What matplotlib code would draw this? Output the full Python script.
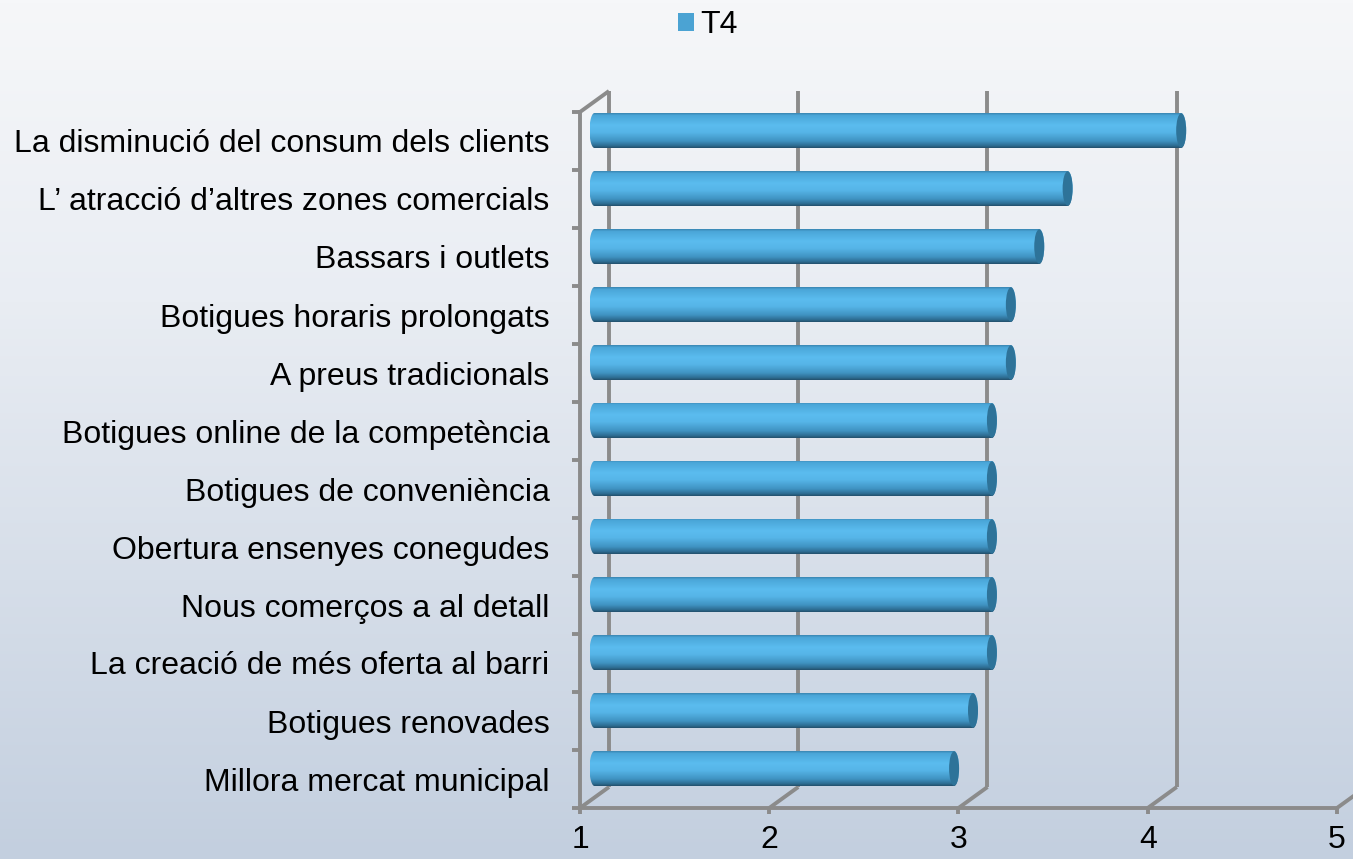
import numpy as np
import matplotlib
matplotlib.use("Agg")
import matplotlib.pyplot as plt
from matplotlib.colors import LinearSegmentedColormap
from matplotlib.patches import PathPatch, Ellipse, Patch
from matplotlib.path import Path

plt.rcParams['font.family'] = ['Liberation Sans', 'DejaVu Sans']

# factors, listed bottom to top
categories = [
    'Millora mercat municipal',
    'Botigues renovades',
    'La creació de més oferta al barri',
    'Nous comerços a al detall',
    'Obertura ensenyes conegudes',
    'Botigues de conveniència',
    'Botigues online de la competència',
    'A preus tradicionals',
    'Botigues horaris prolongats',
    'Bassars i outlets',
    'L\u2019 atracció d\u2019altres zones comercials',
    'La disminució del consum dels clients',
]
t4 = [2.9, 3.0, 3.1, 3.1, 3.1, 3.1, 3.1, 3.2, 3.2, 3.35, 3.5, 4.1]
xticks = [1, 2, 3, 4, 5]

W, H = 1353, 859
FS = 23
fig = plt.figure(figsize=(W / 100, H / 100), dpi=100)

# background gradient
bg = fig.add_axes([0, 0, 1, 1], zorder=0)
bg_cmap = LinearSegmentedColormap.from_list(
    'bg', [(0, '#f6f7f9'), (0.35, '#e9edf3'), (1, '#c3cfdf')])
bg.imshow(np.linspace(0, 1, 256).reshape(-1, 1), cmap=bg_cmap,
          aspect='auto', extent=[0, 1, 0, 1], origin='upper')
bg.axis('off')

ax = fig.add_axes([580 / W, 51 / H, 757 / W, 696 / H], zorder=1)
ax.patch.set_alpha(0)
ax.set_xlim(1, 5)
ax.set_ylim(0, len(categories))

px_x = 757 / 4.0      # pixels per value unit
px_y = 696 / 12.0     # pixels per category
DX = 29 / px_x        # depth offset of the back wall
DY = 21 / px_y
grid_c = '#8b8b8b'
lw = 2.8

n = len(categories)
# back wall verticals and floor diagonals
for v in xticks:
    ax.plot([v + DX, v + DX], [DY, n + DY], color=grid_c, lw=lw,
            clip_on=False, solid_capstyle='butt', zorder=2)
    ax.plot([v, v + DX], [0, DY], color=grid_c, lw=lw, clip_on=False,
            solid_capstyle='butt', zorder=2)
# left wall top edge
ax.plot([1, 1 + DX], [n, n + DY], color=grid_c, lw=lw, clip_on=False,
        solid_capstyle='butt', zorder=2)

for s in ['top', 'right']:
    ax.spines[s].set_visible(False)
for s in ['left', 'bottom']:
    ax.spines[s].set_color(grid_c)
    ax.spines[s].set_linewidth(lw)
    ax.spines[s].set_zorder(2)

ax.set_xticks(xticks)
ax.set_xticklabels([str(v) for v in xticks])
ax.set_yticks(np.arange(n + 1))
ax.set_yticklabels([])
ax.set_yticks(np.arange(n) + 0.5, minor=True)
ax.set_yticklabels(categories, minor=True)
ax.tick_params(axis='x', which='major', direction='out', length=4.5,
               width=lw, color=grid_c, pad=8, labelsize=FS)
ax.tick_params(axis='y', which='major', direction='out', length=6,
               width=lw, color=grid_c)
ax.tick_params(axis='y', which='minor', length=0, pad=22, labelsize=FS)

# cylinder bars at mid depth
bar_cmap = LinearSegmentedColormap.from_list('bar', [
    (0.0, '#3a86b2'), (0.06, '#4aa6d8'), (0.35, '#5bbcef'),
    (0.55, '#56b5e8'), (0.8, '#4093c2'), (0.94, '#2d6c91'),
    (1.0, '#23506c')])
grad = np.linspace(0, 1, 120).reshape(-1, 1)
ry = 17.5 / px_y
rx = 5.0 / px_x
dx, dy = DX / 2, DY / 2
for i, v in enumerate(t4):
    yc = i + 0.5 + dy
    x0, x1 = 1 + dx, v + dx
    th_l = np.linspace(np.pi / 2, 3 * np.pi / 2, 40)
    th_r = np.linspace(-np.pi / 2, np.pi / 2, 40)
    pts = np.concatenate([
        np.column_stack([x0 + rx * np.cos(th_l), yc + ry * np.sin(th_l)]),
        np.column_stack([x1 + rx * np.cos(th_r), yc + ry * np.sin(th_r)]),
    ])
    pts = np.vstack([pts, pts[:1]])
    body = PathPatch(Path(pts, closed=True), facecolor='none',
                     edgecolor='none', transform=ax.transData)
    ax.add_patch(body)
    im = ax.imshow(grad, cmap=bar_cmap, aspect='auto', origin='upper',
                   extent=[x0 - rx, x1 + rx, yc - ry, yc + ry], zorder=3)
    im.set_clip_path(body)
    ax.add_patch(Ellipse((x1, yc), 2 * rx, 2 * ry * 0.98,
                         facecolor='#2e7399', edgecolor='none', zorder=4))

ax.set_xlim(1, 5)
ax.set_ylim(0, n)

fig.legend(handles=[Patch(facecolor='#4ba3d3', label='T4')],
           loc='center', bbox_to_anchor=(708 / W, 1 - 25 / H),
           frameon=False, fontsize=FS, handlelength=0.5,
           handleheight=0.5, handletextpad=0.2)

fig.savefig('out.png', dpi=100)
